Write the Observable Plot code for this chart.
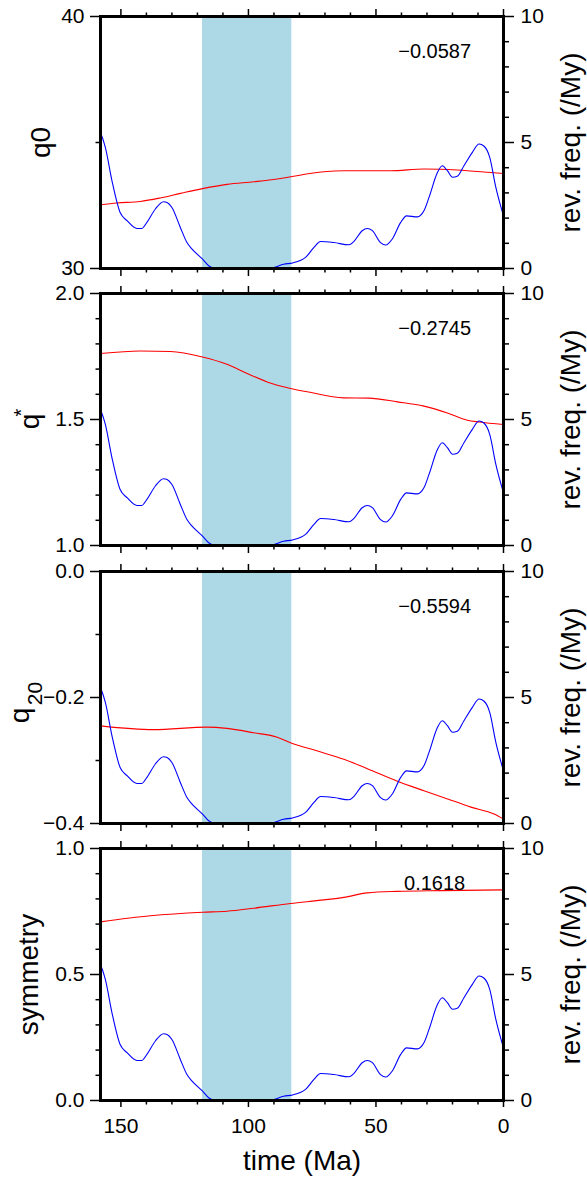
<!DOCTYPE html>
<html>
<head>
<meta charset="utf-8">
<script src="https://cdn.jsdelivr.net/npm/d3@7"></script>
<script src="https://cdn.jsdelivr.net/npm/@observablehq/plot@0.6"></script>
<style>
  html, body { margin: 0; padding: 0; background: #fff; }
  #chart { position: relative; width: 587px; height: 1178px; }
  #chart svg { position: absolute; left: 0; }
</style>
</head>
<body>
<div id="chart"></div>
<script>
// ---------- data ----------
const revTime = [158, 156.1, 153.5, 150.3, 147.6, 143.7, 141.8, 139.8, 136.5, 133.3, 131.9, 130, 126.7, 124.1, 122.1, 118, 115.6, 113.6, 111, 92, 90.1, 86.2, 82.7, 77.6, 74.4, 71.7, 66.5, 60.6, 58.7, 55.4, 53.4, 51.4, 48.2, 46.2, 43.6, 40.3, 38, 33.8, 31.2, 29.2, 25.9, 24, 22, 20, 18.1, 15.5, 12.2, 9.6, 7.6, 5.4, 3, 0];
const revFreq = [5.40, 4.81, 3.48, 2.22, 1.90, 1.59, 1.59, 1.83, 2.36, 2.65, 2.62, 2.42, 1.63, 1.03, 0.77, 0.37, 0.11, 0.02, 0, 0, 0.04, 0.17, 0.22, 0.44, 0.83, 1.07, 1.03, 0.94, 1.07, 1.50, 1.59, 1.50, 1.03, 0.93, 1.17, 1.83, 2.09, 2.05, 2.29, 2.82, 3.81, 4.08, 3.88, 3.62, 3.66, 4.08, 4.61, 4.94, 4.85, 4.41, 3.22, 2.09];

const q0Time = [158, 151.6, 142.4, 134.6, 126.7, 118, 108.4, 97.9, 88.7, 83.5, 70.4, 62.6, 44.3, 31.2, 18.1, 5, 0];
const q0Values = [32.53, 32.60, 32.66, 32.80, 32.98, 33.17, 33.34, 33.44, 33.55, 33.64, 33.84, 33.88, 33.88, 33.95, 33.91, 33.81, 33.77];

const qStarTime = [158, 142.4, 130.6, 118, 108.4, 100.5, 92.7, 83.5, 77.0, 62.6, 52.8, 41.6, 31.2, 22.0, 14.2, 9.6, 0];
const qStarValues = [1.762, 1.772, 1.770, 1.748, 1.719, 1.683, 1.649, 1.623, 1.610, 1.586, 1.585, 1.570, 1.553, 1.526, 1.497, 1.490, 1.480];

const q20Time = [158, 137.2, 116.2, 108.4, 97.9, 88.7, 83.5, 72.9, 62.6, 53.4, 41.6, 31.2, 23.3, 12.8, 3.7, 0];
const q20Values = [-0.245, -0.251, -0.247, -0.249, -0.256, -0.263, -0.272, -0.285, -0.298, -0.313, -0.333, -0.348, -0.359, -0.374, -0.385, -0.393];

const symTime = [158, 138.4, 118, 108.4, 97.9, 83.5, 70.4, 62.6, 53.4, 41.6, 24.5, 0];
const symValues = [0.709, 0.733, 0.747, 0.751, 0.763, 0.782, 0.796, 0.806, 0.824, 0.830, 0.833, 0.836];

const correlations = [-0.0587, -0.2745, -0.5594, 0.1618];

const superchron = [{start: 118, end: 83}];

const timeDomain = [158, 0];
const timeMajor = [0, 50, 100, 150];
const timeMinor = [10, 20, 30, 40, 60, 70, 80, 90, 110, 120, 130, 140];
const revMajor = [0, 5, 10];
const revMinor = [1, 2, 3, 4, 6, 7, 8, 9];

const q0Domain = [30, 40], q0Major = [30, 40], q0Minor = [35];
const qStarDomain = [1, 2], qStarMajor = [1.0, 1.5, 2.0], qStarMinor = [1.1, 1.2, 1.3, 1.4, 1.6, 1.7, 1.8, 1.9];
const q20Domain = [-0.4, 0], q20Major = [0, -0.2, -0.4], q20Minor = [-0.1, -0.3];
const symDomain = [0, 1], symMajor = [0, 0.5, 1.0], symMinor = [0.1, 0.2, 0.3, 0.4, 0.6, 0.7, 0.8, 0.9];

// ---------- layout ----------
const FONT = "'Liberation Sans', Arial, Helvetica, sans-serif";
const W = 587, ML = 100, MR = 84, MT = 16, FH = 252;
const tops = [0, 277, 555, 832];

const panels = [
  {time: q0Time, values: q0Values, domain: q0Domain, major: q0Major, minor: q0Minor, fmt: d3.format("d"),
   label: [{t: "q0", s: 28, bx: 49, dy: 0}]},
  {time: qStarTime, values: qStarValues, domain: qStarDomain, major: qStarMajor, minor: qStarMinor, fmt: d3.format(".1f"),
   label: [{t: "q", s: 28, bx: 38, dy: 2}, {t: "*", s: 20, bx: 27, dy: -7}]},
  {time: q20Time, values: q20Values, domain: q20Domain, major: q20Major, minor: q20Minor, fmt: d3.format(".1f"),
   label: [{t: "q", s: 28, bx: 28.5, dy: 18}, {t: "20", s: 21, bx: 41, dy: -4}]},
  {time: symTime, values: symValues, domain: symDomain, major: symMajor, minor: symMinor, fmt: d3.format(".1f"),
   label: [{t: "symmetry", s: 28, bx: 37.5, dy: 0}]}
];

const chart = document.getElementById("chart");
const rev = revTime.map((t, i) => ({t, f: revFreq[i]}));
const corrFmt = d3.format(".4f");

panels.forEach((p, i) => {
  const last = i === panels.length - 1;
  const MB = last ? 1178 - tops[i] - MT - FH : 10;
  const H = MT + FH + MB;
  const data = p.time.map((t, j) => ({t, v: p.values[j]}));
  const common = {
    width: W, height: H, marginLeft: ML, marginRight: MR, marginTop: MT, marginBottom: MB,
    x: {domain: timeDomain, label: null, axis: null},
    style: {background: "transparent", fontFamily: FONT, color: "black"}
  };

  const left = Plot.plot({
    ...common,
    y: {domain: p.domain, label: null, axis: null},
    marks: [
      Plot.rect(superchron, {x1: "start", x2: "end", fill: "lightblue"}),
      Plot.line(data, {x: "t", y: "v", stroke: "red", strokeWidth: 1.1, curve: "monotone-x"}),
      Plot.frame({stroke: "black", strokeWidth: 3}),
      Plot.axisY(p.major, {anchor: "left", tickSize: 10, tickPadding: 6, tickFormat: p.fmt, fontSize: 21, strokeWidth: 1.5}),
      Plot.axisY(p.minor, {anchor: "left", tickSize: 4.5, fill: "none", strokeWidth: 1.5}),
      Plot.axisX(timeMajor, {anchor: "top", tickSize: 8, fill: "none", strokeWidth: 1.5}),
      Plot.axisX(timeMinor, {anchor: "top", tickSize: 4.5, fill: "none", strokeWidth: 1.5}),
      last
        ? Plot.axisX(timeMajor, {anchor: "bottom", tickSize: 7, tickPadding: 11, tickFormat: d3.format("d"), fontSize: 21, strokeWidth: 1.5})
        : Plot.axisX(timeMajor, {anchor: "bottom", tickSize: 8, fill: "none", strokeWidth: 1.5}),
      Plot.axisX(timeMinor, {anchor: "bottom", tickSize: 4.5, fill: "none", strokeWidth: 1.5}),
      ...p.label.map(l => Plot.text([l.t], {
        text: d => d, frameAnchor: "left", rotate: -90, dx: l.bx - ML, dy: l.dy,
        lineAnchor: "bottom", textAnchor: "middle", fontSize: l.s, fill: "black"
      })),
      Plot.text([correlations[i]], {text: d => corrFmt(d), x: 27, frameAnchor: "top", dy: 27, fontSize: 20, fill: "black"}),
      last ? Plot.text(["time (Ma)"], {text: d => d, frameAnchor: "bottom", dy: 69, lineAnchor: "bottom", fontSize: 28, fill: "black"}) : null
    ]
  });

  const right = Plot.plot({
    ...common,
    y: {domain: [0, 10], label: null, axis: null},
    marks: [
      Plot.line(rev, {x: "t", y: "f", stroke: "blue", strokeWidth: 1.1, curve: "monotone-x"}),
      Plot.frame({stroke: "black", strokeWidth: 3}),
      Plot.axisY(revMajor, {anchor: "right", tickSize: 10, tickPadding: 7, tickFormat: d3.format("d"), fontSize: 21, strokeWidth: 1.5}),
      Plot.axisY(revMinor, {anchor: "right", tickSize: 5, fill: "none", strokeWidth: 1.5}),
      Plot.text(["rev. freq. (/My)"], {
        text: d => d, frameAnchor: "right", rotate: -90, dx: 76, lineAnchor: "bottom",
        textAnchor: "middle", fontSize: 28, fill: "black"
      })
    ]
  });

  left.style.top = tops[i] + "px";
  right.style.top = tops[i] + "px";
  chart.appendChild(left);
  chart.appendChild(right);
});
</script>
</body>
</html>
